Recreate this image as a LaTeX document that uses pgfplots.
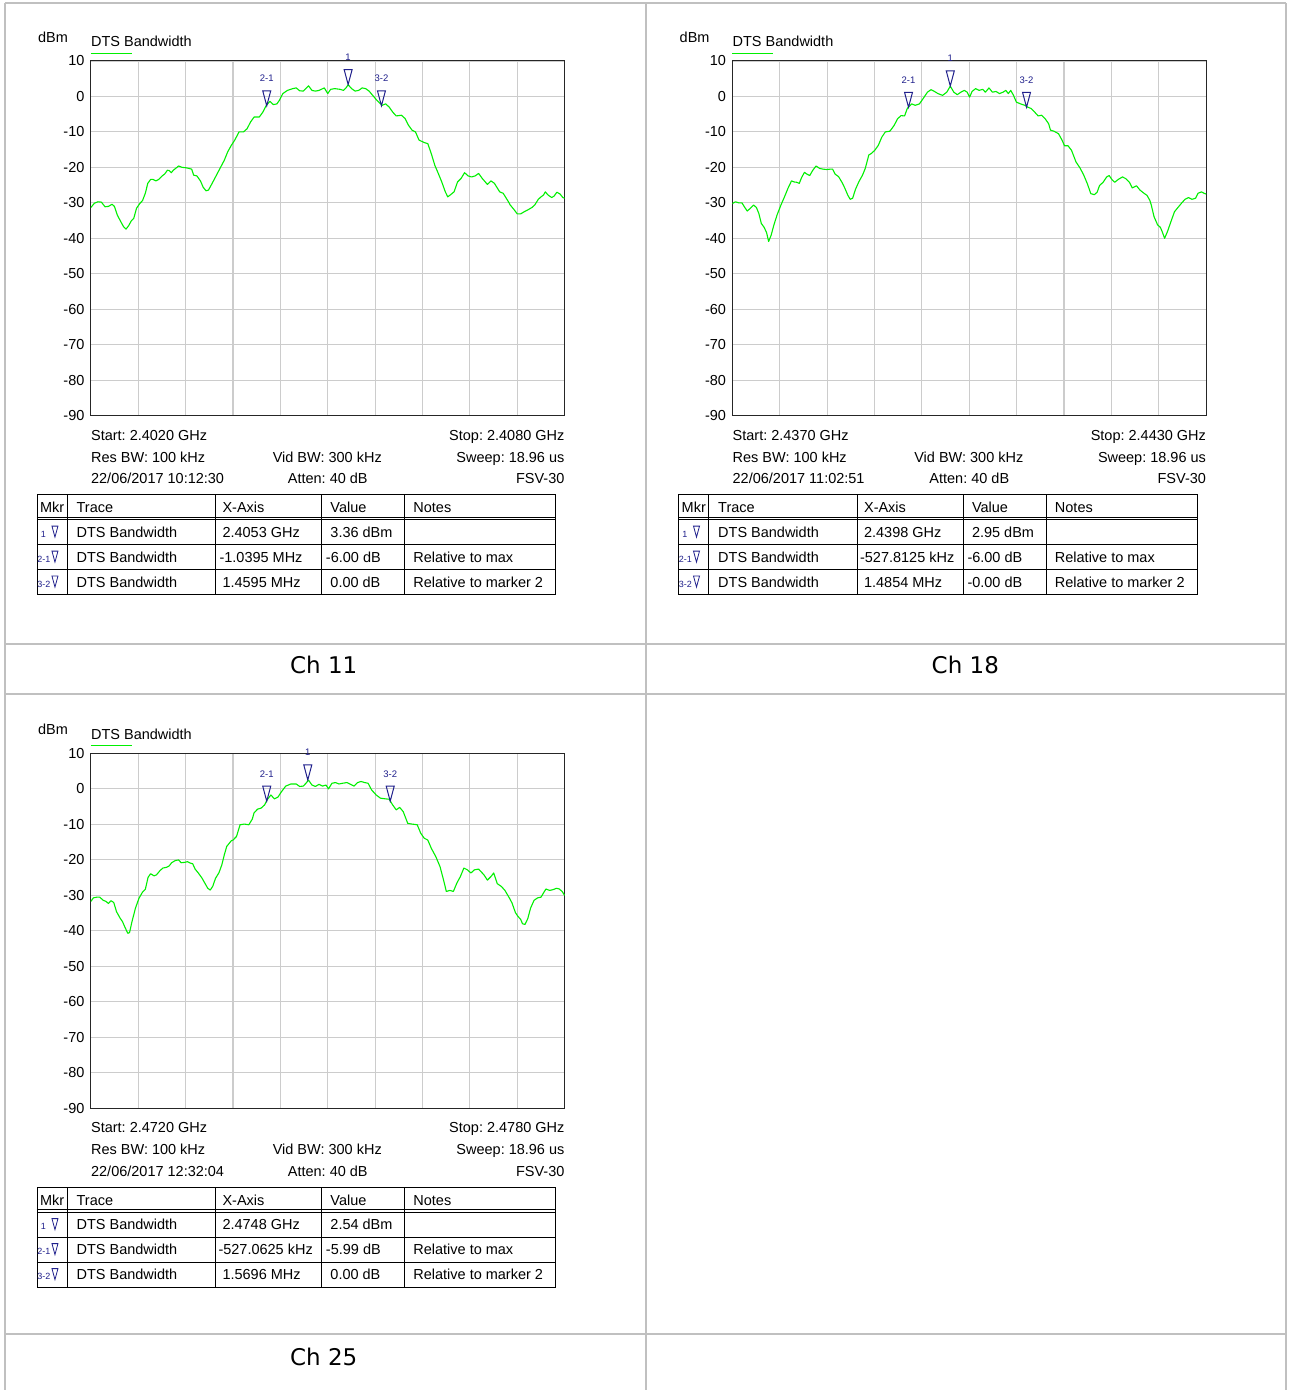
\documentclass[border=0pt]{standalone}
\usepackage{fontspec}
\setmainfont{Liberation Sans}
\newfontfamily\capfont{DejaVu Sans}
\usepackage{pgfplots}
\pgfplotsset{compat=1.18}
\frenchspacing

\definecolor{trgreen}{HTML}{00F000}
\definecolor{mkblue}{HTML}{20208C}
\definecolor{gridgray}{HTML}{CCCCCC}
\definecolor{cellgray}{HTML}{C0C0C0}

\pgfdeclareplotmark{mkr}{%
  \pgfpathmoveto{\pgfqpoint{0pt}{0pt}}%
  \pgfpathlineto{\pgfqpoint{-4pt}{15pt}}%
  \pgfpathlineto{\pgfqpoint{4pt}{15pt}}%
  \pgfpathclose
  \pgfusepathqstroke}

\newcommand{\fs}{\fontsize{14.5}{17}\selectfont}

\pgfplotsset{
  spec/.style={
    scale only axis, width=474pt, height=355pt, anchor=north west,
    xmin=0, xmax=6, ymin=-90, ymax=10,
    xtick={0.6,1.2,1.8,2.4,3.0,3.6,4.2,4.8,5.4}, xticklabels={},
    ytick={-90,-80,-70,-60,-50,-40,-30,-20,-10,0,10},
    yticklabels={-90,-80,-70,-60,-50,-40,-30,-20,-10,0,10},
    grid=major, major grid style={draw=gridgray, line width=1.1pt},
    major tick length=0pt,
    axis line style={draw=black!85, line width=1pt},
    tick label style={font=\fs},
    yticklabel style={xshift=-3pt},
    clip=false,
  },
  trace/.style={draw=trgreen, line width=1.1pt, mark=none, line join=round},
  mkrs/.style={only marks, mark=mkr, draw=mkblue, line width=1pt,
    point meta=explicit symbolic, nodes near coords,
    every node near coord/.append style={font=\fontsize{9.5}{10}\selectfont,
      text=mkblue, anchor=base, yshift=24pt, inner sep=0pt}},
}

\newcommand{\panelinfo}[3]{%
  \node[anchor=base west] at (-53,-18.7) {dBm};
  \node[anchor=base west] at (0,-14.3) {DTS Bandwidth};
  \draw[trgreen, line width=1.3pt] (0,-7.7) -- (41,-7.7);
  \node[anchor=base west] at (0,379.5) {Start: #1};
  \node[anchor=base east] at (474,379.5) {Stop: #2};
  \node[anchor=base west] at (0,401.5) {Res BW: 100 kHz};
  \node[anchor=base] at (236.5,401.5) {Vid BW: 300 kHz};
  \node[anchor=base east] at (474,401.5) {Sweep: 18.96 us};
  \node[anchor=base west] at (0,423) {#3};
  \node[anchor=base] at (237,423) {Atten: 40 dB};
  \node[anchor=base east] at (474,423) {FSV-30};
}

\newcommand{\tframe}{%
  \draw[line width=0.9pt] (0,0) rectangle (519,100);
  \draw[line width=0.7pt] (0,22.3) -- (519,22.3) (0,25) -- (519,25)
     (0,50) -- (519,50) (0,75) -- (519,75);
  \draw[line width=0.7pt] (30,0) -- (30,100) (179,0) -- (179,100)
     (285,0) -- (285,100) (368,0) -- (368,100);
  \node[anchor=base west] at (3,18.3) {Mkr};
  \node[anchor=base west] at (39.5,18.3) {Trace};
  \node[anchor=base west] at (185.5,18.3) {X-Axis};
  \node[anchor=base west] at (293.5,18.3) {Value};
  \node[anchor=base west] at (376.5,18.3) {Notes};
}

% #1 baseline y, #2 mkr label, #3 label right edge, #4 x text, #5 x offset, #6 value, #7 value offset, #8 notes
\newcommand{\mrow}[8]{%
  \node[anchor=base east, text=mkblue, font=\fontsize{9}{9}\selectfont] at (#3,#1) {#2};
  \draw[mkblue, line width=0.8pt] (15,#1-11) -- (21,#1-11) -- (18,#1) -- cycle;
  \node[anchor=base west] at (39.5,#1) {DTS Bandwidth};
  \node[anchor=base west] at (#5,#1) {#4};
  \node[anchor=base west] at (#7,#1) {#6};
  \node[anchor=base west] at (376.5,#1) {#8};
}

\begin{document}
\begin{tikzpicture}
\begin{scope}[x=1pt, y=-1pt, every node/.style={inner sep=0pt, font=\fs}]
  \path[fill=white] (0,0) rectangle (1289,1391);
  \draw[cellgray, line width=2pt] (5,3) -- (1287,3) (5,644) -- (1287,644)
     (5,694) -- (1287,694) (5,1335) -- (1287,1335)
     (5,3) -- (5,1391) (646,3) -- (646,1391) (1287,3) -- (1287,1391);
  \node[font=\capfont\fontsize{23}{26}\selectfont] at (324,665) {Ch 11};
  \node[font=\capfont\fontsize{23}{26}\selectfont] at (966,665) {Ch 18};
  \node[font=\capfont\fontsize{23}{26}\selectfont] at (324,1358) {Ch 25};

  \begin{scope}[shift={(91,61)}]
    \panelinfo{2.4020 GHz}{2.4080 GHz}{22/06/2017 10:12:30}
    \begin{scope}[shift={(-54,434)}]
      \tframe
      \mrow{42.5}{1}{9}{2.4053 GHz}{185.5}{3.36 dBm}{293.5}{}
      \mrow{67.5}{2-1}{13.5}{-1.0395 MHz}{182.5}{-6.00 dB}{289}{Relative to max}
      \mrow{92.5}{3-2}{13.5}{1.4595 MHz}{185.5}{0.00 dB}{293.5}{Relative to marker 2}
    \end{scope}
  \end{scope}

  \begin{scope}[shift={(733,61)}]
    \panelinfo{2.4370 GHz}{2.4430 GHz}{22/06/2017 11:02:51}
    \begin{scope}[shift={(-54,434)}]
      \tframe
      \mrow{42.5}{1}{9}{2.4398 GHz}{185.5}{2.95 dBm}{293.5}{}
      \mrow{67.5}{2-1}{13.5}{-527.8125 kHz}{181.5}{-6.00 dB}{289}{Relative to max}
      \mrow{92.5}{3-2}{13.5}{1.4854 MHz}{185.5}{-0.00 dB}{289}{Relative to marker 2}
    \end{scope}
  \end{scope}

  \begin{scope}[shift={(91,754)}]
    \panelinfo{2.4720 GHz}{2.4780 GHz}{22/06/2017 12:32:04}
    \begin{scope}[shift={(-54,434)}]
      \tframe
      \mrow{42.5}{1}{9}{2.4748 GHz}{185.5}{2.54 dBm}{293.5}{}
      \mrow{67.5}{2-1}{13.5}{-527.0625 kHz}{181.5}{-5.99 dB}{289}{Relative to max}
      \mrow{92.5}{3-2}{13.5}{1.5696 MHz}{185.5}{0.00 dB}{293.5}{Relative to marker 2}
    \end{scope}
  \end{scope}
\end{scope}

% ---------------- Ch 11 ----------------
\begin{axis}[spec, at={(91pt,-61pt)}]
\addplot[trace] coordinates {
(0.000,-31.3)(0.044,-30.1)(0.089,-29.7)(0.133,-29.8)(0.178,-31.1)(0.222,-31.0)(0.267,-30.4)(0.298,-31.0)(0.333,-33.4)(0.378,-35.3)(0.413,-36.7)(0.444,-37.4)(0.476,-36.5)(0.511,-35.1)(0.542,-34.4)(0.578,-31.5)(0.622,-30.1)(0.653,-29.4)(0.689,-27.3)(0.720,-24.5)(0.756,-23.4)(0.787,-23.4)(0.822,-23.8)(0.858,-23.4)(0.902,-22.4)(0.933,-21.9)(0.969,-20.8)(0.991,-20.9)(1.018,-21.5)(1.044,-20.8)(1.089,-20.0)(1.111,-19.6)(1.156,-20.0)(1.200,-20.1)(1.244,-20.3)(1.276,-20.5)(1.302,-22.2)(1.342,-22.4)(1.387,-23.8)(1.422,-25.6)(1.458,-26.6)(1.489,-26.4)(1.533,-24.6)(1.578,-22.7)(1.644,-19.9)(1.689,-18.0)(1.733,-15.6)(1.778,-13.8)(1.822,-12.3)(1.876,-10.0)(1.933,-10.0)(1.978,-9.1)(2.022,-7.2)(2.067,-5.8)(2.133,-5.8)(2.178,-4.4)(2.222,-2.5)(2.267,-1.4)(2.311,-2.3)(2.356,-2.1)(2.387,-1.1)(2.431,0.8)(2.489,1.7)(2.556,2.2)(2.600,2.4)(2.644,1.6)(2.689,1.5)(2.756,3.0)(2.800,1.7)(2.844,1.5)(2.889,1.7)(2.956,2.4)(3.000,0.8)(3.036,2.0)(3.089,2.2)(3.156,2.0)(3.200,1.7)(3.231,2.4)(3.258,3.3)(3.302,2.2)(3.347,1.5)(3.391,1.7)(3.436,2.4)(3.480,2.2)(3.524,1.5)(3.569,0.3)(3.622,-1.1)(3.689,-2.5)(3.733,-2.1)(3.778,-3.0)(3.822,-4.4)(3.867,-5.5)(3.933,-5.3)(3.978,-6.2)(4.022,-8.1)(4.067,-9.5)(4.111,-10.0)(4.156,-12.3)(4.222,-13.0)(4.267,-13.3)(4.311,-16.1)(4.356,-19.4)(4.400,-21.7)(4.444,-24.1)(4.489,-26.9)(4.520,-28.3)(4.556,-27.7)(4.600,-26.9)(4.644,-24.1)(4.689,-23.1)(4.733,-21.5)(4.778,-22.4)(4.822,-22.7)(4.867,-22.4)(4.911,-21.7)(4.956,-23.1)(5.022,-24.8)(5.067,-23.8)(5.111,-24.5)(5.178,-26.9)(5.222,-27.3)(5.289,-29.7)(5.311,-30.6)(5.356,-31.8)(5.400,-33.1)(5.444,-33.1)(5.489,-32.5)(5.533,-32.0)(5.587,-31.3)(5.622,-30.6)(5.667,-29.0)(5.702,-28.3)(5.733,-27.8)(5.756,-26.9)(5.791,-27.8)(5.836,-28.5)(5.867,-28.1)(5.902,-27.0)(5.942,-27.5)(5.978,-28.5)(6.000,-28.7)
};
\addplot[mkrs] coordinates {(3.258,3.36) [1] (2.227,-2.64) [2-1] (3.680,-2.64) [3-2]};
\end{axis}

% ---------------- Ch 18 ----------------
\begin{axis}[spec, at={(733pt,-61pt)}]
\addplot[trace] coordinates {
(0,-30.2)(0.036,-29.7)(0.080,-30.0)(0.120,-30.0)(0.156,-31.3)(0.187,-32.3)(0.223,-31.6)(0.267,-30.6)(0.303,-31.3)(0.334,-33.0)(0.365,-35.8)(0.401,-36.9)(0.432,-38.4)(0.458,-40.9)(0.490,-39.1)(0.525,-36.2)(0.565,-33.4)(0.614,-30.6)(0.659,-28.3)(0.703,-25.9)(0.748,-23.8)(0.779,-24.1)(0.814,-24.2)(0.846,-24.5)(0.877,-22.8)(0.912,-21.4)(0.943,-21.9)(0.979,-22.3)(1.015,-20.9)(1.059,-19.6)(1.104,-20.3)(1.148,-20.5)(1.193,-20.6)(1.237,-20.5)(1.268,-20.5)(1.300,-21.9)(1.344,-22.6)(1.389,-24.3)(1.424,-25.9)(1.460,-27.8)(1.491,-29.0)(1.522,-28.7)(1.558,-26.2)(1.602,-24.0)(1.647,-22.2)(1.682,-20.3)(1.727,-16.5)(1.758,-16.1)(1.802,-15.2)(1.847,-13.8)(1.891,-11.5)(1.936,-10.0)(1.994,-9.8)(2.047,-8.2)(2.091,-6.3)(2.136,-5.4)(2.180,-5.5)(2.216,-3.3)(2.270,-2.1)(2.314,-2.5)(2.368,-2.1)(2.412,-0.7)(2.470,1.2)(2.514,1.9)(2.559,1.4)(2.603,0.8)(2.661,0.3)(2.715,1.2)(2.759,2.9)(2.804,1.2)(2.848,0.5)(2.893,1.2)(2.937,1.7)(2.973,1.2)(3.004,-0.2)(3.035,1.4)(3.080,2.2)(3.124,1.7)(3.169,2.0)(3.204,1.2)(3.249,2.4)(3.293,1.2)(3.338,1.4)(3.382,0.8)(3.427,1.2)(3.462,1.7)(3.494,0.8)(3.525,1.7)(3.560,0.3)(3.596,-1.6)(3.649,-2.1)(3.703,-2.5)(3.738,-3.0)(3.783,-3.4)(3.827,-4.4)(3.872,-5.5)(3.916,-5.3)(3.961,-6.3)(4.005,-7.7)(4.028,-9.5)(4.072,-9.8)(4.130,-10.5)(4.174,-12.3)(4.206,-13.9)(4.250,-13.9)(4.295,-15.2)(4.352,-18.5)(4.406,-20.3)(4.450,-22.2)(4.495,-24.6)(4.539,-27.4)(4.584,-27.7)(4.619,-27.0)(4.650,-25.1)(4.695,-24.2)(4.740,-22.7)(4.771,-22.3)(4.806,-23.4)(4.842,-24.2)(4.886,-23.4)(4.940,-22.7)(4.984,-23.2)(5.029,-24.2)(5.064,-25.8)(5.118,-25.2)(5.162,-26.4)(5.207,-27.2)(5.251,-27.9)(5.287,-29.3)(5.305,-30.6)(5.340,-33.9)(5.385,-36.2)(5.420,-36.9)(5.443,-38.1)(5.474,-40.0)(5.510,-38.1)(5.554,-35.3)(5.599,-32.5)(5.643,-31.3)(5.688,-30.1)(5.732,-29.0)(5.776,-28.5)(5.821,-29.0)(5.866,-28.7)(5.897,-27.3)(5.941,-26.9)(5.973,-27.3)(6.000,-27.5)
};
\addplot[mkrs] coordinates {(2.759,2.95) [1] (2.230,-3.05) [2-1] (3.725,-3.05) [3-2]};
\end{axis}

% ---------------- Ch 25 ----------------
\begin{axis}[spec, at={(91pt,-754pt)}]
\addplot[trace] coordinates {
(0,-31.7)(0.031,-30.7)(0.076,-30.5)(0.111,-30.5)(0.156,-31.4)(0.191,-31.7)(0.222,-32.3)(0.253,-31.5)(0.289,-32.0)(0.324,-34.6)(0.369,-36.4)(0.400,-37.4)(0.431,-39.0)(0.467,-40.7)(0.489,-40.5)(0.520,-37.4)(0.564,-33.6)(0.609,-30.8)(0.653,-29.1)(0.689,-28.3)(0.724,-24.9)(0.756,-23.9)(0.800,-24.5)(0.831,-24.2)(0.876,-23.0)(0.911,-22.3)(0.956,-22.1)(0.991,-21.7)(1.022,-20.8)(1.067,-20.2)(1.111,-20.0)(1.142,-20.8)(1.187,-20.7)(1.222,-20.5)(1.258,-20.9)(1.289,-21.1)(1.320,-22.6)(1.364,-23.8)(1.409,-25.2)(1.444,-26.6)(1.480,-28.0)(1.511,-28.5)(1.542,-27.5)(1.578,-25.2)(1.622,-23.6)(1.658,-21.4)(1.689,-18.6)(1.720,-16.2)(1.778,-14.6)(1.800,-14.4)(1.844,-13.4)(1.889,-10.1)(1.942,-9.9)(2.000,-10.1)(2.044,-8.5)(2.067,-6.7)(2.111,-5.7)(2.156,-5.4)(2.200,-4.5)(2.231,-3.1)(2.280,-1.7)(2.324,-2.8)(2.369,-2.3)(2.413,-0.8)(2.467,0.8)(2.533,1.4)(2.600,1.4)(2.644,0.7)(2.689,0.8)(2.724,1.6)(2.756,2.5)(2.800,1.1)(2.844,0.7)(2.889,1.3)(2.933,0.8)(2.978,1.1)(3.009,0.0)(3.053,1.6)(3.098,1.8)(3.142,1.4)(3.187,1.6)(3.244,1.8)(3.289,1.3)(3.333,0.8)(3.378,1.8)(3.422,2.1)(3.467,1.8)(3.511,1.6)(3.556,-0.3)(3.613,-1.7)(3.667,-2.6)(3.733,-2.8)(3.778,-2.9)(3.822,-4.5)(3.867,-5.9)(3.911,-5.2)(3.956,-6.4)(4.013,-9.7)(4.067,-9.9)(4.133,-10.1)(4.178,-12.5)(4.222,-13.9)(4.267,-14.4)(4.311,-16.7)(4.369,-19.1)(4.422,-21.9)(4.467,-25.7)(4.502,-28.9)(4.547,-28.6)(4.591,-28.9)(4.636,-26.5)(4.680,-24.7)(4.724,-22.3)(4.769,-22.8)(4.813,-23.7)(4.858,-22.8)(4.911,-22.6)(4.978,-24.2)(5.022,-25.7)(5.067,-24.7)(5.102,-23.7)(5.147,-26.7)(5.200,-27.5)(5.244,-28.6)(5.302,-30.8)(5.333,-32.1)(5.378,-34.9)(5.409,-35.9)(5.444,-36.8)(5.467,-38.0)(5.498,-38.2)(5.533,-36.6)(5.569,-33.6)(5.613,-31.4)(5.658,-30.7)(5.702,-30.5)(5.733,-29.3)(5.764,-28.2)(5.809,-28.6)(5.853,-28.4)(5.898,-28.0)(5.933,-28.2)(5.969,-28.9)(6.000,-30.0)
};
\addplot[mkrs] coordinates {(2.747,2.54) [1] (2.227,-3.45) [2-1] (3.791,-3.45) [3-2]};
\end{axis}
\end{tikzpicture}
\end{document}
